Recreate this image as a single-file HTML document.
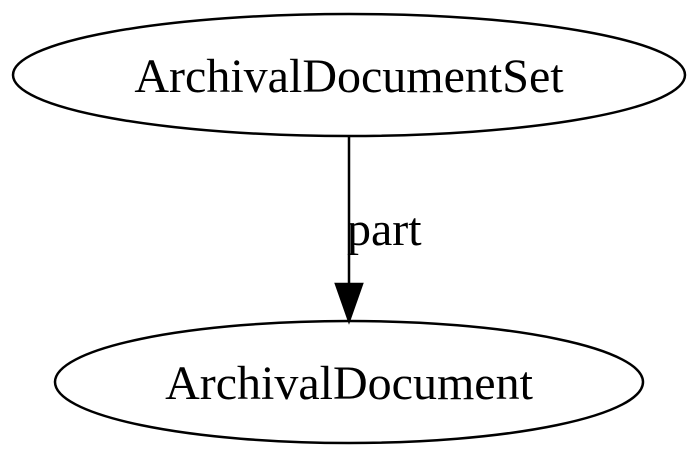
<!DOCTYPE html>
<html><head><meta charset="utf-8"><style>
html,body{margin:0;padding:0;background:#fff;width:700px;height:459px;overflow:hidden}
text{font-family:"Liberation Serif",serif;font-size:48px;fill:#000}
</style></head><body>
<svg width="700" height="459" viewBox="0 0 700 459" xmlns="http://www.w3.org/2000/svg">
<ellipse cx="349" cy="75" rx="336" ry="61" fill="none" stroke="#000" stroke-width="2.5"/>
<text x="349" y="92" text-anchor="middle">ArchivalDocumentSet</text>
<ellipse cx="349" cy="382" rx="294" ry="61" fill="none" stroke="#000" stroke-width="2.5"/>
<text x="349" y="399" text-anchor="middle">ArchivalDocument</text>
<line x1="349" y1="136" x2="349" y2="284" stroke="#000" stroke-width="2.5"/>
<polygon points="336,284 362,284 349,321" fill="#000" stroke="#000" stroke-width="2.5"/>
<text x="347" y="245">part</text>
</svg>
</body></html>
